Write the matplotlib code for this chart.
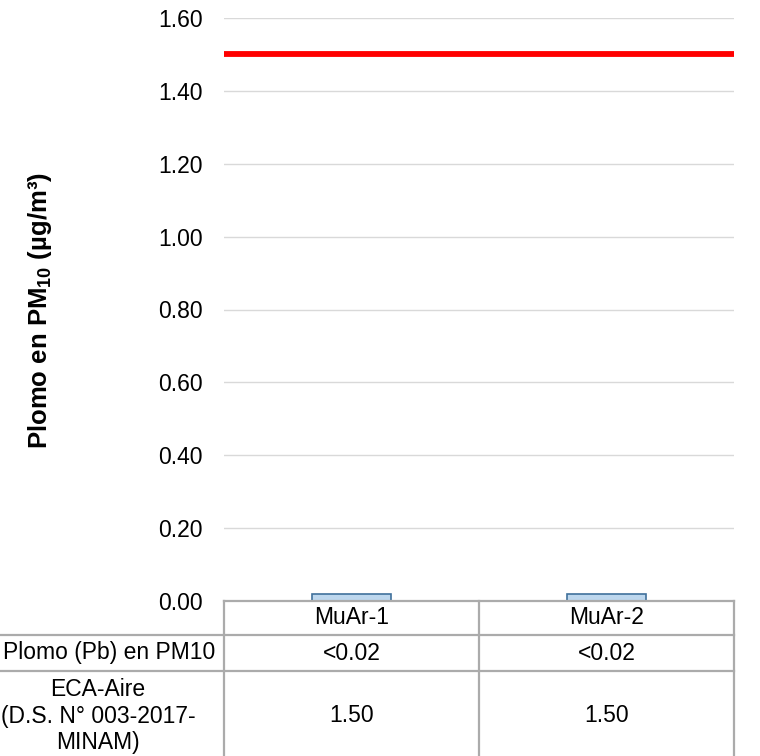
import matplotlib
matplotlib.use("Agg")
import matplotlib.pyplot as plt
from matplotlib.lines import Line2D

plt.rcParams['font.family'] = ['Liberation Sans', 'DejaVu Sans']
plt.rcParams['mathtext.fontset'] = 'custom'
plt.rcParams['mathtext.rm'] = 'Liberation Sans'
plt.rcParams['mathtext.bf'] = 'Liberation Sans:bold'

# Data
stations = ["MuAr-1", "MuAr-2"]
pb_values = [0.02, 0.02]            # detection limit drawn as bar height
pb_labels = ["<0.02", "<0.02"]
eca_values = [1.50, 1.50]
row_labels = ["Plomo (Pb) en PM10", "ECA-Aire\n(D.S. N° 003-2017-\nMINAM)"]
y_ticks = [0.0, 0.2, 0.4, 0.6, 0.8, 1.0, 1.2, 1.4, 1.6]

FS = 16.5
W, H = 760, 756
fig = plt.figure(figsize=(W / 100, H / 100), dpi=100)

def fx(px):
    return px / W

def fy(py):
    return 1 - py / H

left, right, top, bottom = 224, 734, 18, 601
ax = fig.add_axes([fx(left), fy(bottom), fx(right - left), (bottom - top) / H])

x = list(range(len(stations)))
ax.bar(x, pb_values, width=0.31, color="#BDD7EE", edgecolor="#41719C",
       linewidth=1.2, zorder=3)
ax.axhline(eca_values[0], color="#FF0000", linewidth=4.2, zorder=4)

ax.set_xlim(-0.5, len(stations) - 0.5)
ax.set_ylim(0, 1.6)
ax.set_yticks(y_ticks)
ax.set_yticklabels([f"{v:.2f}" for v in y_ticks], fontsize=FS)
ax.tick_params(axis='y', length=0, pad=15.5)
ax.set_xticks([])
ax.yaxis.grid(True, color="#D9D9D9", linewidth=1.0, zorder=0)
for s in ax.spines.values():
    s.set_visible(False)

fig.text(fx(40), fy(311), "Plomo en PM$_{\\mathbf{10}}$ (µg/m³)", rotation=90,
         ha="center", va="center", fontsize=18.5, fontweight="bold")

# Data table below the axis
gray = "#ABABAB"
lw = 1.6
col_edges = [224, 479, 734]
row_y = [601, 635, 671, 762]

def hline(x0, x1, y):
    fig.add_artist(Line2D([fx(x0), fx(x1)], [fy(y), fy(y)], color=gray,
                          linewidth=lw, transform=fig.transFigure))

def vline(xp, y0, y1):
    fig.add_artist(Line2D([fx(xp), fx(xp)], [fy(y0), fy(y1)], color=gray,
                          linewidth=lw, transform=fig.transFigure))

hline(col_edges[0], col_edges[-1], row_y[0])
for yy in row_y[1:]:
    hline(-30, col_edges[-1], yy)
for xe in col_edges:
    vline(xe, row_y[0], row_y[-1])

for i, name in enumerate(stations):
    cx = (col_edges[i] + col_edges[i + 1]) / 2
    fig.text(fx(cx), fy(618), name, ha="center", va="center", fontsize=FS)
    fig.text(fx(cx), fy(653), pb_labels[i], ha="center", va="center", fontsize=FS)
    fig.text(fx(cx), fy(716), f"{eca_values[i]:.2f}", ha="center", va="center", fontsize=FS)

fig.text(fx(109), fy(653), row_labels[0], ha="center", va="center", fontsize=FS)
fig.text(fx(98), fy(716), row_labels[1], ha="center", va="center", fontsize=FS,
         linespacing=1.17, multialignment="center")

fig.savefig("out.png", dpi=100)
